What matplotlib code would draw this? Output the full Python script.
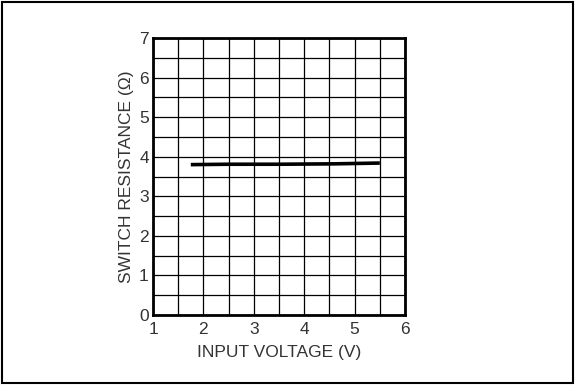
import numpy as np
import matplotlib
matplotlib.use("Agg")
from matplotlib import pyplot as plt
from matplotlib.patches import Rectangle

plt.rcParams['font.family'] = ['Liberation Sans', 'DejaVu Sans']

# switch resistance vs. input voltage
vin = [1.75, 2.5, 3.5, 4.6, 5.5]
ron = [3.80, 3.81, 3.81, 3.82, 3.84]

x_ticks = [1, 2, 3, 4, 5, 6]
y_ticks = [0, 1, 2, 3, 4, 5, 6, 7]

fig = plt.figure(figsize=(5.75, 3.85), dpi=100)
ax = fig.add_axes([153/575, 1 - 315/385, (405-153)/575, (315-38)/385])

ax.plot(vin, ron, color='black', linewidth=2.6, solid_capstyle='butt', zorder=3)

ax.set_xlim(1, 6)
ax.set_ylim(0, 7)
ax.set_xticks(x_ticks)
ax.set_yticks(y_ticks)
ax.set_xticks(np.arange(1.5, 6, 1), minor=True)
ax.set_yticks(np.arange(0.5, 7, 1), minor=True)
ax.grid(True, which='both', color='black', linewidth=0.9)
ax.tick_params(which='both', length=0, labelsize=12.5, colors='#333333')
ax.tick_params(axis='x', pad=5)
ax.tick_params(axis='y', pad=3)
for s in ax.spines.values():
    s.set_linewidth(2)
    s.set_zorder(4)

ax.set_xlabel('INPUT VOLTAGE (V)', fontsize=12.5, labelpad=6, color='#333333')
ax.set_ylabel('SWITCH RESISTANCE (\u03a9)', fontsize=12.5, labelpad=4, color='#333333')

# frame around the whole figure
fig.patches.append(Rectangle((0.004, 0.006), 0.992, 0.988, transform=fig.transFigure,
                             fill=False, edgecolor='black', linewidth=1.5))

fig.savefig('out.png', dpi=100)
